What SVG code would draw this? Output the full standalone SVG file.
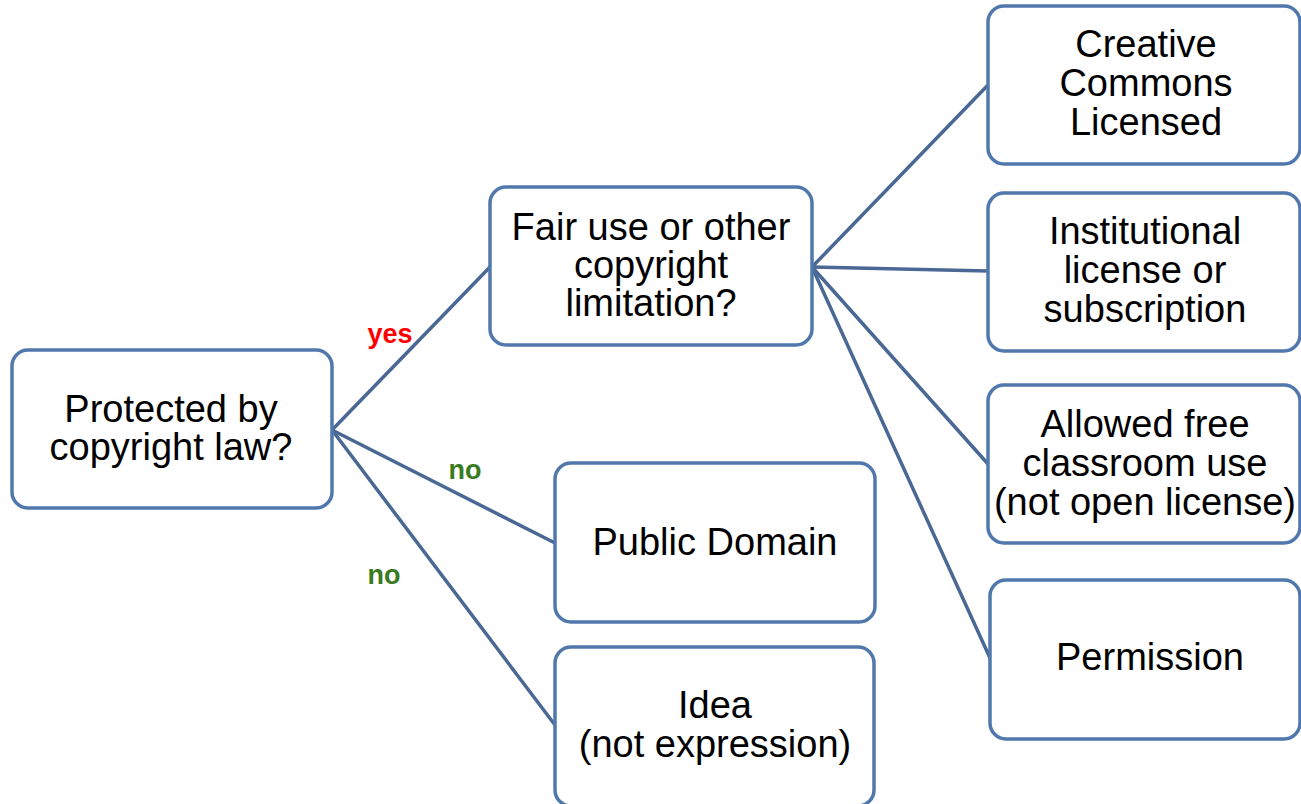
<svg xmlns="http://www.w3.org/2000/svg" width="1301" height="804" viewBox="0 0 1301 804">
<style>
.box{fill:#ffffff;stroke:#5078ad;stroke-width:3.5}
.t{font-family:"Liberation Sans",Arial,sans-serif;font-size:38px;fill:#000;text-anchor:middle}
.lbl{font-family:"Liberation Sans",Arial,sans-serif;font-size:27px;font-weight:bold;text-anchor:middle}
.conn line{stroke:#4a6894;stroke-width:3.5;stroke-linecap:round}
</style>
<rect width="1301" height="804" fill="#ffffff"/>
<g class="conn" id="connectors">
<line x1="332" y1="430" x2="490" y2="267"/>
<line x1="332" y1="430" x2="555" y2="543"/>
<line x1="332" y1="430" x2="555" y2="725"/>
<line x1="812" y1="267" x2="988" y2="85"/>
<line x1="812" y1="267" x2="988" y2="271"/>
<line x1="812" y1="267" x2="988" y2="464"/>
<line x1="812" y1="267" x2="990" y2="658"/>
</g>
<g id="labels">
<text class="lbl" x="390" y="343" fill="#ff0000">yes</text>
<text class="lbl" x="465" y="479" fill="#3a7a20">no</text>
<text class="lbl" x="384" y="584" fill="#3a7a20">no</text>
</g>
<g id="n-protected">
<rect class="box" x="12" y="350" width="320" height="158" rx="16"/>
<text class="t" x="171" y="422">Protected by</text>
<text class="t" x="171" y="460">copyright law?</text>
</g>
<g id="n-fairuse">
<rect class="box" x="490" y="187" width="322" height="158" rx="16"/>
<text class="t" x="651" y="240">Fair use or other</text>
<text class="t" x="651" y="278">copyright</text>
<text class="t" x="651" y="316">limitation?</text>
</g>
<g id="n-cc">
<rect class="box" x="988" y="6" width="312" height="158" rx="16"/>
<text class="t" x="1146" y="57">Creative</text>
<text class="t" x="1146" y="96">Commons</text>
<text class="t" x="1146" y="135">Licensed</text>
</g>
<g id="n-institutional">
<rect class="box" x="988" y="193" width="312" height="158" rx="16"/>
<text class="t" x="1145" y="244">Institutional</text>
<text class="t" x="1145" y="283">license or</text>
<text class="t" x="1145" y="322">subscription</text>
</g>
<g id="n-allowed">
<rect class="box" x="988" y="385" width="312" height="158" rx="16"/>
<text class="t" x="1145" y="437">Allowed free</text>
<text class="t" x="1145" y="476">classroom use</text>
<text class="t" x="1145" y="515">(not open license)</text>
</g>
<g id="n-permission">
<rect class="box" x="990" y="580" width="310" height="159" rx="16"/>
<text class="t" x="1150" y="670">Permission</text>
</g>
<g id="n-public">
<rect class="box" x="555" y="463" width="320" height="159" rx="16"/>
<text class="t" x="715" y="555">Public Domain</text>
</g>
<g id="n-idea">
<rect class="box" x="555" y="647" width="319" height="159" rx="16"/>
<text class="t" x="715" y="718">Idea</text>
<text class="t" x="715" y="757">(not expression)</text>
</g>
</svg>
